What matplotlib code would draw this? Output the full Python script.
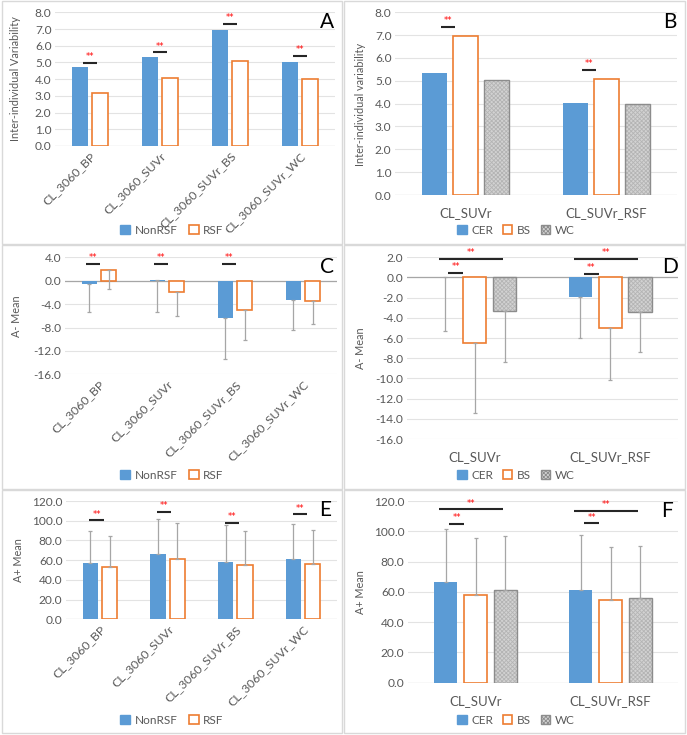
import matplotlib
matplotlib.use('Agg')
import matplotlib.pyplot as plt
from matplotlib.patches import Rectangle, Patch
from matplotlib.ticker import FormatStrFormatter

plt.rcParams['font.family'] = ['Lato', 'DejaVu Sans']
plt.rcParams['hatch.linewidth'] = 0.6

# ---- data ----
cats4 = ['CL_3060_BP', 'CL_3060_SUVr', 'CL_3060_SUVr_BS', 'CL_3060_SUVr_WC']
cats2 = ['CL_SUVr', 'CL_SUVr_RSF']

# A: inter-individual variability (SD)
a_nonrsf = [4.75, 5.35, 6.95, 5.05]
a_rsf = [3.2, 4.05, 5.1, 4.0]
a_sig = [4.98, 5.6, 7.3, 5.4]

# B
b_cer = [5.35, 4.05]
b_bs = [6.95, 5.1]
b_wc = [5.05, 4.0]
b_sig = [7.34, 5.47]

# C: A- mean (error = SD from A)
c_nonrsf = [-0.55, 0.05, -6.45, -3.35]
c_rsf = [1.8, -1.9, -5.05, -3.42]
c_sig = [2.8, 2.8, 2.8, None]

# D
d_cer = [0.05, -1.9]
d_bs = [-6.45, -5.05]
d_wc = [-3.35, -3.42]
d_cer_sd = [5.35, 4.05]
d_bs_sd = [6.95, 5.1]
d_wc_sd = [5.05, 4.0]
d_sig_long = [1.84, 1.84]
d_sig_short = [0.42, 0.32]

# E: A+ mean
e_nonrsf = [57.4, 66.3, 58.1, 61.3]
e_nonrsf_sd = [31.7, 35.4, 37.4, 35.3]
e_rsf = [52.6, 61.4, 54.7, 56.1]
e_rsf_sd = [32.1, 36.2, 34.8, 34.0]
e_sig = [100.7, 108.9, 98.0, 106.5]

# F
f_cer = [66.3, 61.4]
f_bs = [58.1, 54.7]
f_wc = [61.3, 56.1]
f_cer_sd = [35.4, 36.2]
f_bs_sd = [37.4, 34.8]
f_wc_sd = [35.3, 34.0]
f_sig_long = [114.5, 113.4]
f_sig_short = [105.0, 105.2]

BLUE = '#5B9BD5'
ORANGE = '#ED7D31'
GREY_TXT = '#595959'
GRID = '#E3E3E3'
ERR = '#A6A6A6'
WC_FACE = '#D2D2D2'
WC_HATCH = '#B4B4B4'

W, H = 687, 735
fig = plt.figure(figsize=(W / 100, H / 100), dpi=100)


def px_axes(l, t, r, b):
    return fig.add_axes([l / W, 1 - b / H, (r - l) / W, (b - t) / H])


def frame(l, t, r, b):
    fig.add_artist(Rectangle((l / W, 1 - b / H), (r - l) / W, (b - t) / H,
                             transform=fig.transFigure, fill=False,
                             edgecolor='#D9D9D9', lw=1.0))


def style_axes(ax, ymin, ymax, step, zero_line=False):
    ax.set_ylim(ymin, ymax)
    ticks = []
    v = ymin
    while v <= ymax + 1e-9:
        ticks.append(v)
        v += step
    ax.set_yticks(ticks)
    ax.yaxis.set_major_formatter(FormatStrFormatter('%.1f'))
    ax.grid(axis='y', color=GRID, lw=0.8)
    ax.set_axisbelow(True)
    for s in ax.spines.values():
        s.set_visible(False)
    ax.tick_params(axis='both', length=0, colors=GREY_TXT, labelsize=8.6)
    ax.tick_params(axis='y', pad=2.5)
    ax.axhline(0, color='#A6A6A6' if zero_line else '#D9D9D9', lw=0.9, zorder=1)


def hatched_bar(ax, x, h, w, bottom=0):
    ax.bar(x, h, w, color=WC_FACE, edgecolor=WC_HATCH, hatch='xxxxxxxx', lw=0, zorder=2)
    ax.bar(x, h, w, fill=False, edgecolor='#8C8C8C', lw=1.0, zorder=3)


def err(ax, x, vals, sd, up):
    if up:
        yerr = [[0] * len(sd), sd]
    else:
        yerr = [sd, [0] * len(sd)]
    ax.errorbar(x, vals, yerr=yerr, fmt='none', ecolor=ERR, elinewidth=0.9,
                capsize=1.5, capthick=0.9, zorder=4)


def sig(ax, xc, y, hw, dy):
    ax.plot([xc - hw, xc + hw], [y, y], color='#262626', lw=1.5,
            solid_capstyle='butt', clip_on=False, zorder=5)
    ax.text(xc, y + dy, '**', color='red', fontsize=6, ha='center', va='bottom',
            family='DejaVu Sans', clip_on=False)


def two_group(ax, cats, v1, v2, sd1=None, sd2=None, up=True):
    x = list(range(len(cats)))
    bw = 0.225
    x1 = [i - 0.143 for i in x]
    x2 = [i + 0.143 for i in x]
    ax.bar(x1, v1, bw, color=BLUE, zorder=2)
    ax.bar(x2, v2, bw, color='white', edgecolor=ORANGE, lw=1.2, zorder=2)
    if sd1 is not None:
        err(ax, x1, v1, sd1, up)
        err(ax, x2, v2, sd2, up)
    ax.set_xlim(-0.5, len(cats) - 0.5)
    ax.set_xticks(x)
    ax.set_xticklabels(cats, rotation=45, ha='right', va='top',
                       rotation_mode='anchor', fontsize=8.8)
    ax.tick_params(axis='x', pad=3)


def three_group(ax, cats, v1, v2, v3, sds=None, up=True):
    x = list(range(len(cats)))
    bw = 0.173
    off = 0.221
    x1 = [i - off for i in x]
    x3 = [i + off for i in x]
    ax.bar(x1, v1, bw, color=BLUE, zorder=2)
    ax.bar(x, v2, bw, color='white', edgecolor=ORANGE, lw=1.2, zorder=2)
    hatched_bar(ax, x3, v3, bw)
    if sds is not None:
        err(ax, x1, v1, sds[0], up)
        err(ax, x, v2, sds[1], up)
        err(ax, x3, v3, sds[2], up)
    ax.set_xlim(-0.5, len(cats) - 0.5)
    ax.set_xticks(x)
    ax.set_xticklabels(cats, fontsize=9.5)
    ax.tick_params(axis='x', pad=9)


def legend2(cx, cy):
    h = [Patch(facecolor=BLUE, edgecolor=BLUE),
         Patch(facecolor='white', edgecolor=ORANGE, lw=1.2)]
    fig.legend(h, ['NonRSF', 'RSF'], loc='center', bbox_to_anchor=(cx / W, 1 - cy / H),
               ncol=2, frameon=False, fontsize=8.5, labelcolor=GREY_TXT,
               handlelength=0.8, handleheight=0.8, handletextpad=0.4, columnspacing=1.0)


def legend3(cx, cy):
    h = [Patch(facecolor=BLUE, edgecolor=BLUE),
         Patch(facecolor='white', edgecolor=ORANGE, lw=1.2),
         Patch(facecolor=WC_FACE, edgecolor='#8C8C8C', hatch='xxxxxxxx')]
    fig.legend(h, ['CER', 'BS', 'WC'], loc='center', bbox_to_anchor=(cx / W, 1 - cy / H),
               ncol=3, frameon=False, fontsize=8.5, labelcolor=GREY_TXT,
               handlelength=0.8, handleheight=0.8, handletextpad=0.4, columnspacing=0.8)


def ylabel(x, y, s):
    fig.text(x / W, 1 - y / H, s, rotation=90, ha='center', va='center',
             fontsize=7.8, color=GREY_TXT)


def letter(x, y, s):
    fig.text(x / W, 1 - y / H, s, ha='center', va='center', fontsize=15, color='black')


# panel frames
for (l, r) in [(2, 342), (344, 685)]:
    for (t, b) in [(1, 244), (245, 489), (490, 733)]:
        frame(l, t, r, b)

# ---- A ----
axA = px_axes(55, 12.3, 335, 146)
style_axes(axA, 0, 8, 1)
two_group(axA, cats4, a_nonrsf, a_rsf)
for i, y in enumerate(a_sig):
    sig(axA, i, y, 0.105, 0.1)
legend2(172, 230)
ylabel(16, 79, 'Inter-individual Variability')
letter(327, 22, 'A')

# ---- B ----
axB = px_axes(395, 12.3, 677, 195)
style_axes(axB, 0, 8, 1)
three_group(axB, cats2, b_cer, b_bs, b_wc)
for i, y in enumerate(b_sig):
    sig(axB, i - 0.125, y, 0.052, 0.1)
legend3(516, 230)
ylabel(360, 104, 'Inter-individual variability')
letter(670, 22, 'B')

# ---- C ----
axC = px_axes(65, 257.3, 337, 374.3)
style_axes(axC, -16, 4, 4, zero_line=True)
two_group(axC, cats4, c_nonrsf, c_rsf, a_nonrsf, a_rsf, up=False)
for i, y in enumerate(c_sig):
    if y is not None:
        sig(axC, i - 0.09, y, 0.105, 0.35)
legend2(172, 475)
ylabel(16, 316, 'A- Mean')
letter(327, 267, 'C')

# ---- D ----
axD = px_axes(407, 257.3, 678, 439)
style_axes(axD, -16, 2, 2, zero_line=True)
three_group(axD, cats2, d_cer, d_bs, d_wc, [d_cer_sd, d_bs_sd, d_wc_sd], up=False)
for i in range(2):
    sig(axD, i - 0.03, d_sig_long[i], 0.237, 0.2)
    sig(axD, i - 0.14, d_sig_short[i], 0.054, 0.2)
legend3(516, 475)
ylabel(360, 348, 'A- Mean')
letter(670, 267, 'D')

# ---- E ----
axE = px_axes(66, 501, 337, 619.3)
style_axes(axE, 0, 120, 20)
two_group(axE, cats4, e_nonrsf, e_rsf, e_nonrsf_sd, e_rsf_sd, up=True)
for i, y in enumerate(e_sig):
    sig(axE, i - 0.05, y, 0.105, 1.5)
legend2(172, 720)
ylabel(19, 560, 'A+ Mean')
letter(325, 510, 'E')

# ---- F ----
axF = px_axes(408, 501, 678, 682.7)
style_axes(axF, 0, 120, 20)
three_group(axF, cats2, f_cer, f_bs, f_wc, [f_cer_sd, f_bs_sd, f_wc_sd], up=True)
for i in range(2):
    sig(axF, i - 0.03, f_sig_long[i], 0.237, 1.2)
    sig(axF, i - 0.14, f_sig_short[i], 0.054, 1.2)
legend3(516, 720)
ylabel(360, 592, 'A+ Mean')
letter(667, 511, 'F')

fig.savefig('out.png', dpi=100)
